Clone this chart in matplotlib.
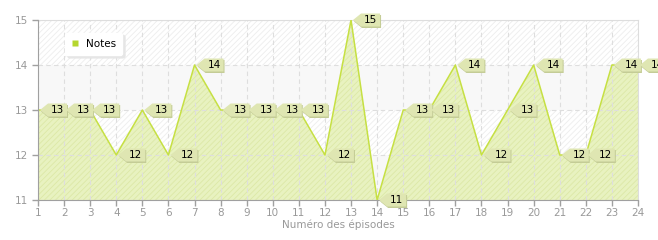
import matplotlib
matplotlib.use("Agg")
import matplotlib.pyplot as plt
import matplotlib.transforms as mtransforms
from matplotlib.patches import Polygon
from matplotlib.lines import Line2D

episodes = list(range(1, 25))
notes = [13, 13, 13, 12, 13, 12, 14, 13, 13, 13, 13, 12, 15, 11, 13, 13, 14, 12, 13, 14, 12, 12, 14, 14]
y_ticks = [11, 12, 13, 14, 15]
series_name = "Notes"
x_label = "Numéro des épisodes"

plt.rcParams['hatch.linewidth'] = 0.6
fig = plt.figure(figsize=(6.58, 2.40), dpi=100)
ax = fig.add_axes([38/658, 40/240, 600/658, 180/240])
ax.set_xlim(1, 24)
ax.set_ylim(11, 15)

# background bands
for lo in range(11, 15):
    if lo % 2 == 0:
        ax.axhspan(lo, lo + 1, facecolor='white', edgecolor='#ededed', hatch='//////', lw=0, zorder=0)
    else:
        ax.axhspan(lo, lo + 1, facecolor='#f8f8f8', edgecolor='none', lw=0, zorder=0)

ax.fill_between(episodes, notes, 11, facecolor='#e8f2c0', edgecolor='#dce8a6', hatch='//////', lw=0, zorder=1)
ax.plot(episodes, notes, color='#c6e043', lw=1.1, zorder=3)

ax.set_xticks(episodes)
ax.set_yticks(y_ticks)
ax.grid(True, color='#dedede', ls=(0, (4, 3)), lw=0.8, zorder=2)
ax.set_axisbelow(False)
for gl in ax.get_xgridlines() + ax.get_ygridlines():
    gl.set_zorder(2)

for s in ['top', 'right']:
    ax.spines[s].set_color('#dddddd')
for s in ['left', 'bottom']:
    ax.spines[s].set_color('#a0a0a0')
    ax.spines[s].set_zorder(5)
ax.tick_params(axis='both', colors='#a0a0a0', labelcolor='#999999', labelsize=7.5, length=4, width=1)
ax.tick_params(axis='x', pad=2)
ax.set_xlabel(x_label, color='#999999', fontsize=7.5, labelpad=1)

# value labels (arrow-shaped boxes)
px = 1 / fig.dpi
shape = [(2, 0), (10, 6.5), (29, 6.5), (29, -6.5), (10, -6.5)]
for xv, yv in zip(episodes, notes):
    off = mtransforms.ScaledTranslation(xv, yv, ax.transData)
    tr = fig.dpi_scale_trans + off
    shadow = Polygon([((a + 1) * px, (b - 1.5) * px) for a, b in shape], closed=True,
                     facecolor='#c4cc96', edgecolor='none', transform=tr, clip_on=False, zorder=6)
    box = Polygon([(a * px, b * px) for a, b in shape], closed=True,
                  facecolor='#dfe6b2', edgecolor='none', transform=tr, clip_on=False, zorder=7)
    ax.add_patch(shadow)
    ax.add_patch(box)
    ax.text(19.5 * px, 0, str(yv), transform=tr, ha='center', va='center',
            fontsize=7.5, color='black', zorder=8, clip_on=False)

handle = Line2D([], [], marker='s', color='none', markerfacecolor='#b5d62e',
                markeredgecolor='none', markersize=4.5)
leg = ax.legend([handle], [series_name], loc='upper left', bbox_to_anchor=(0.045, 0.93),
                borderaxespad=0, frameon=True, fancybox=True, shadow={'color': '#e6e6e6', 'alpha': 1},
                fontsize=7.5, handlelength=0.8, handletextpad=0.6, borderpad=0.6,
                edgecolor='white', facecolor='white', framealpha=1)
leg.set_zorder(9)

fig.savefig('out.png', dpi=100)
